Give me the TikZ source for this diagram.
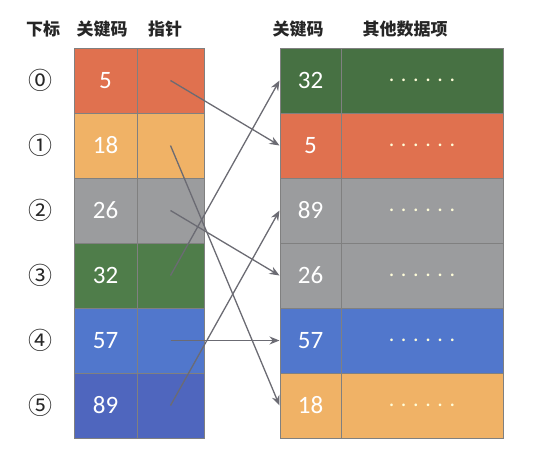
\documentclass[tikz,border=0pt]{standalone}
\usepackage{fontspec}
\setmainfont{Carlito}
\newfontfamily\cjk{Noto Sans CJK SC}
\usetikzlibrary{arrows.meta}
\definecolor{salmon}{HTML}{E0714F}
\definecolor{amber}{HTML}{F0B266}
\definecolor{stone}{HTML}{9B9C9E}
\definecolor{moss}{HTML}{4F7D4A}
\definecolor{sky}{HTML}{5177CC}
\definecolor{navy}{HTML}{4F66BE}
\definecolor{arrowgray}{HTML}{6B6B73}
\tikzset{
  cell/.style={draw=black!50, line width=1pt, minimum height=65pt, inner sep=0pt, text=white, font=\fontsize{25}{25}\selectfont},
  keycell/.style={cell, minimum width=63pt},
  ptrcell/.style={cell, minimum width=67pt},
  rkeycell/.style={cell, minimum width=61pt},
  datacell/.style={cell, minimum width=162pt, text=white!85!yellow, font=\fontsize{22}{22}\selectfont},
  head/.style={text=black!85, font=\cjk\bfseries\fontsize{17}{17}\selectfont},
  idx/.style={text=black!85, font=\cjk\fontsize{24}{24}\selectfont},
  link/.style={-{Stealth[length=10pt,width=8pt]}, draw=arrowgray, line width=1.3pt}
}
\begin{document}
\begin{tikzpicture}[x=1pt,y=-1pt]
		\useasboundingbox (0,0) rectangle (537,453);
		% headers
		\node[head] (hidx) at (43,29) {下标};
		\node[head] (hkey) at (102,29) {关键码};
		\node[head] (hptr) at (165,29) {指针};
		\node[head] (hrkey) at (298,29) {关键码};
		\node[head] (hdata) at (405,29) {其他数据项};
		% index column
		\node[idx] (i0) at (40,80.5) {⓪};
		\node[idx] (i1) at (40,145.5) {①};
		\node[idx] (i2) at (40,210.5) {②};
		\node[idx] (i3) at (40,275.5) {③};
		\node[idx] (i4) at (40,340.5) {④};
		\node[idx] (i5) at (40,405.5) {⑤};
		% left table
		\node[keycell,fill=salmon] (k0) at (105.5,80.5) {5};
		\node[keycell,fill=amber] (k1) at (105.5,145.5) {18};
		\node[keycell,fill=stone] (k2) at (105.5,210.5) {26};
		\node[keycell,fill=moss] (k3) at (105.5,275.5) {32};
		\node[keycell,fill=sky] (k4) at (105.5,340.5) {57};
		\node[keycell,fill=navy] (k5) at (105.5,405.5) {89};
		\node[ptrcell,fill=salmon] (p0) at (170.5,80.5) {};
		\node[ptrcell,fill=amber] (p1) at (170.5,145.5) {};
		\node[ptrcell,fill=stone] (p2) at (170.5,210.5) {};
		\node[ptrcell,fill=moss] (p3) at (170.5,275.5) {};
		\node[ptrcell,fill=sky] (p4) at (170.5,340.5) {};
		\node[ptrcell,fill=navy] (p5) at (170.5,405.5) {};
		% right table
		\node[rkeycell,fill=moss!90!black] (r0) at (310.5,80.5) {32};
		\node[rkeycell,fill=salmon] (r1) at (310.5,145.5) {5};
		\node[rkeycell,fill=stone] (r2) at (310.5,210.5) {89};
		\node[rkeycell,fill=stone] (r3) at (310.5,275.5) {26};
		\node[rkeycell,fill=sky] (r4) at (310.5,340.5) {57};
		\node[rkeycell,fill=amber] (r5) at (310.5,405.5) {18};
		\node[datacell,fill=moss!90!black] (d0) at (422,80.5) {. . . . . .};
		\node[datacell,fill=salmon] (d1) at (422,145.5) {. . . . . .};
		\node[datacell,fill=stone] (d2) at (422,210.5) {. . . . . .};
		\node[datacell,fill=stone] (d3) at (422,275.5) {. . . . . .};
		\node[datacell,fill=sky] (d4) at (422,340.5) {. . . . . .};
		\node[datacell,fill=amber] (d5) at (422,405.5) {. . . . . .};
		% connect them
		\draw[link] (p0.center) -- (r1.west);
		\draw[link] (p1.center) -- (r5.west);
		\draw[link] (p2.center) -- (r3.west);
		\draw[link] (p3.center) -- (r0.west);
		\draw[link] (p4.center) -- (r4.west);
		\draw[link] (p5.center) -- (r2.west);
	\end{tikzpicture}
\end{document}
